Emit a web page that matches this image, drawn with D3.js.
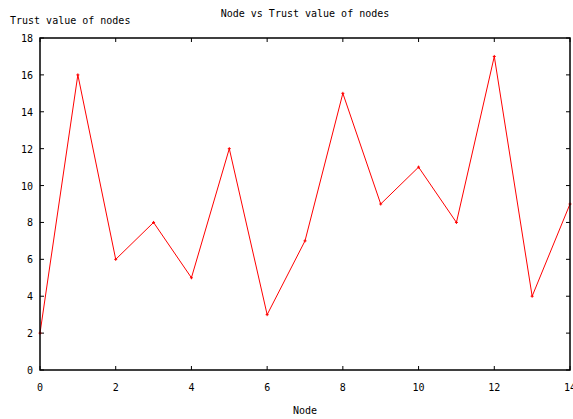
<!DOCTYPE html>
<html>
<head>
<meta charset="utf-8">
<script src="https://cdn.jsdelivr.net/npm/d3@7"></script>
<style>
body { margin: 0; background: #fff; }
svg { display: block; }
text { font-family: "DejaVu Sans Mono", monospace; font-size: 10px; fill: #000; }
</style>
</head>
<body>
<div id="root"></div>
<script>
var nodes = [0, 1, 2, 3, 4, 5, 6, 7, 8, 9, 10, 11, 12, 13, 14];
var trust = [2, 16, 6, 8, 5, 12, 3, 7, 15, 9, 11, 8, 17, 4, 9];
var xTicks = [0, 2, 4, 6, 8, 10, 12, 14];
var yTicks = [0, 2, 4, 6, 8, 10, 12, 14, 16, 18];

var width = 573, height = 419,
    margin = { top: 38, right: 3, bottom: 49, left: 40 };

var svg = d3.select("#root").append("svg")
    .attr("width", width)
    .attr("height", height);

var x = d3.scaleLinear().domain([0, 14]).range([margin.left, width - margin.right]);
var y = d3.scaleLinear().domain([0, 18]).range([height - margin.bottom, margin.top]);

// ticks on all four sides, pointing inward
var tk = 4;
var g = svg.append("g").attr("stroke", "#000").attr("stroke-width", 1);
xTicks.forEach(function (t) {
    g.append("line").attr("x1", x(t)).attr("x2", x(t)).attr("y1", y(0)).attr("y2", y(0) - tk);
    g.append("line").attr("x1", x(t)).attr("x2", x(t)).attr("y1", y(18)).attr("y2", y(18) + tk);
});
yTicks.forEach(function (t) {
    g.append("line").attr("x1", x(0)).attr("x2", x(0) + tk).attr("y1", y(t)).attr("y2", y(t));
    g.append("line").attr("x1", x(14)).attr("x2", x(14) - tk).attr("y1", y(t)).attr("y2", y(t));
});

svg.selectAll(".xl").data(xTicks).enter().append("text")
    .attr("x", function (d) { return x(d); })
    .attr("y", y(0) + 21)
    .attr("text-anchor", "middle")
    .text(function (d) { return d; });

svg.selectAll(".yl").data(yTicks).enter().append("text")
    .attr("x", x(0) - 7)
    .attr("y", function (d) { return y(d) + 4; })
    .attr("text-anchor", "end")
    .text(function (d) { return d; });

// data line
var line = d3.line()
    .x(function (d, i) { return x(nodes[i]); })
    .y(function (d) { return y(d); });

svg.append("path")
    .datum(trust)
    .attr("d", line)
    .attr("fill", "none")
    .attr("stroke", "#ff0000")
    .attr("stroke-width", 1);

svg.selectAll(".pt").data(trust).enter().append("path")
    .attr("d", function (d, i) {
        var px = x(nodes[i]), py = y(d);
        return "M" + (px - 1.5) + "," + py + "H" + (px + 1.5) + "M" + px + "," + (py - 1.5) + "V" + (py + 1.5);
    })
    .attr("stroke", "#ff0000")
    .attr("stroke-width", 1);

// frame
svg.append("rect")
    .attr("x", x(0)).attr("y", y(18))
    .attr("width", x(14) - x(0)).attr("height", y(0) - y(18))
    .attr("fill", "none")
    .attr("stroke", "#000")
    .attr("stroke-width", 1.5);

svg.append("text").attr("x", 305).attr("y", 17).attr("text-anchor", "middle")
    .text("Node vs Trust value of nodes");
svg.append("text").attr("x", 10).attr("y", 24)
    .text("Trust value of nodes");
svg.append("text").attr("x", 305).attr("y", 414).attr("text-anchor", "middle")
    .text("Node");
</script>
</body>
</html>
